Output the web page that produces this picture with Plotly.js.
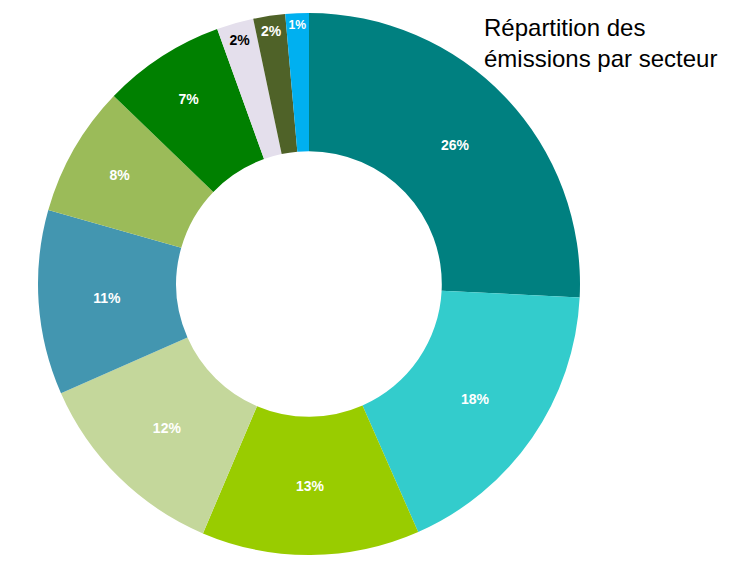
<!DOCTYPE html>
<html>
<head>
<meta charset="utf-8">
<script src="https://cdn.plot.ly/plotly-3.0.1.min.js"></script>
<style>html,body{margin:0;padding:0;background:#fff;}#chart{width:732px;height:562px;}</style>
</head>
<body>
<div id="chart"></div>
<script>
const sectors = ["Transport", "Industrie", "Agriculture", "Résidentiel", "Énergie", "Tertiaire", "Déchets", "Construction", "Sylviculture", "Autres"];
const shares = [25.8, 17.6, 13.0, 12.0, 11.0, 7.8, 7.3, 2.2, 1.9, 1.4];
const colors = ["#008080", "#33CCCC", "#99CC00", "#C4D79B", "#4396B0", "#9BBB59", "#008000", "#E4DFEC", "#4F6228", "#00B0F0"];
const textColors = ["#ffffff", "#ffffff", "#ffffff", "#ffffff", "#ffffff", "#ffffff", "#ffffff", "#000000", "#ffffff", "#ffffff"];
const titleText = "Répartition des<br>émissions par secteur";

const trace = {
  type: "pie",
  labels: sectors,
  values: shares,
  sort: false,
  direction: "clockwise",
  rotation: 0,
  hole: 0.49,
  marker: {colors: colors, line: {width: 0}},
  texttemplate: "%{percent:.0%}",
  textposition: "inside",
  insidetextorientation: "horizontal",
  insidetextfont: {family: "Liberation Sans, Arial, sans-serif", size: 14, weight: "bold", color: textColors},
  domain: {x: [38/732, 580/732], y: [7/562, 549/562]},
  showlegend: false
};

const layout = {
  width: 732, height: 562,
  margin: {l: 0, r: 0, t: 0, b: 0},
  paper_bgcolor: "#ffffff",
  showlegend: false,
  annotations: [{
    text: titleText,
    showarrow: false,
    font: {family: "Liberation Sans, Arial, sans-serif", size: 24, color: "#000000"},
    xref: "paper", yref: "paper",
    x: 482/732, xanchor: "left",
    y: 1 - 12/562, yanchor: "top",
    align: "left"
  }]
};

Plotly.newPlot("chart", [trace], layout, {displayModeBar: false, staticPlot: true});
</script>
</body>
</html>
